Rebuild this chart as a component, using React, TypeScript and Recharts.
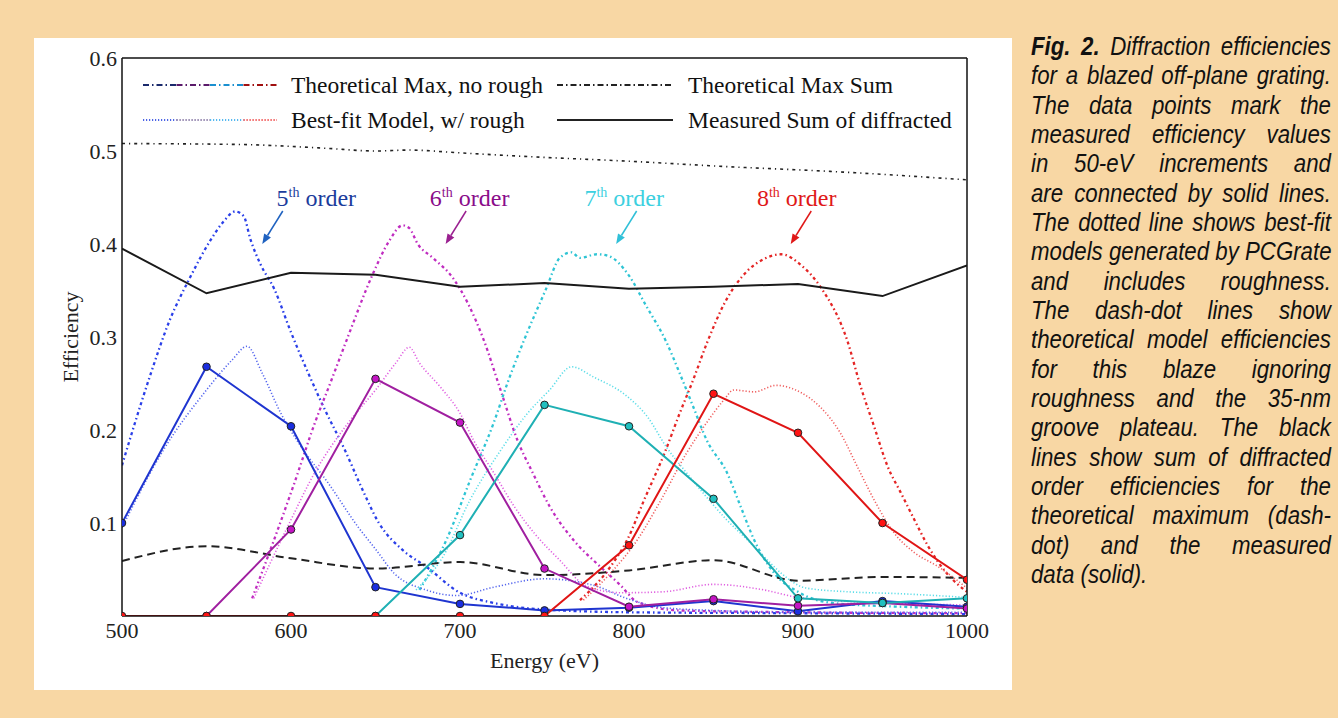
import React from 'react';
import { LineChart, Line, XAxis, YAxis, ReferenceDot } from 'recharts';

// measured points, every 50 eV
const energySteps = [500, 550, 600, 650, 700, 750, 800, 850, 900, 950, 1000];
const measured5th = [0.1, 0.268, 0.204, 0.031, 0.013, 0.006, 0.009, 0.016, 0.005, 0.016, 0.01];
const measured6th = [null, 0, 0.093, 0.255, 0.208, 0.051, 0.01, 0.018, 0.011, 0.014, 0.008];
const measured7th = [null, null, null, 0, 0.087, 0.227, 0.204, 0.126, 0.019, 0.014, 0.019];
const measured8th = [0, 0, 0, 0, 0, 0, 0.076, 0.239, 0.197, 0.1, 0.039];
const measuredSum = [0.395, 0.347, 0.369, 0.367, 0.354, 0.358, 0.352, 0.354, 0.357, 0.344, 0.377];
const dashedBlack = [0.059, 0.075, 0.062, 0.051, 0.058, 0.044, 0.049, 0.06, 0.038, 0.042, 0.041];

// theoretical max, no roughness (dash-dot)  [eV, efficiency]
const theory5th: [number, number][] = [
  [500, 0.162], [516, 0.255], [528, 0.317], [540, 0.363], [552, 0.403], [560, 0.424], [567, 0.435],
  [572, 0.43], [576, 0.405], [582, 0.378], [590, 0.352], [600, 0.305], [610, 0.262], [620, 0.222],
  [632, 0.178], [642, 0.137], [652, 0.1], [666, 0.071], [680, 0.053], [700, 0.025], [720, 0.014],
  [750, 0.007], [800, 0.004], [900, 0.003], [1000, 0.002],
];
const theory6th: [number, number][] = [
  [577, 0.019], [590, 0.082], [602, 0.143], [614, 0.207], [624, 0.254], [633, 0.297], [648, 0.366],
  [658, 0.403], [666, 0.42], [670, 0.417], [675, 0.4], [684, 0.385], [696, 0.363], [705, 0.335],
  [714, 0.297], [724, 0.243], [734, 0.189], [743, 0.154], [753, 0.118], [767, 0.082], [783, 0.053],
  [795, 0.033], [805, 0.015], [830, 0.006], [900, 0.004], [1000, 0.003],
];
const theory7th: [number, number][] = [
  [676, 0.028], [692, 0.082], [706, 0.146], [720, 0.208], [728, 0.25], [738, 0.297], [751, 0.352],
  [759, 0.385], [766, 0.391], [771, 0.385], [781, 0.389], [788, 0.387], [800, 0.366], [810, 0.334],
  [822, 0.295], [830, 0.261], [838, 0.225], [846, 0.189], [858, 0.154], [866, 0.118], [874, 0.082],
  [886, 0.046], [900, 0.026], [920, 0.014], [960, 0.01], [1000, 0.008],
];
const theory8th: [number, number][] = [
  [771, 0.017], [789, 0.053], [799, 0.082], [809, 0.125], [821, 0.175], [830, 0.218], [838, 0.254],
  [846, 0.293], [857, 0.338], [870, 0.371], [880, 0.384], [890, 0.389], [902, 0.377], [914, 0.352],
  [929, 0.297], [937, 0.247], [945, 0.204], [953, 0.161], [961, 0.132], [969, 0.103], [977, 0.075],
  [988, 0.046], [1000, 0.026],
];
const theorySum: [number, number][] = [
  [500, 0.508], [570, 0.507], [620, 0.503], [650, 0.5], [670, 0.501], [700, 0.498], [740, 0.494],
  [800, 0.489], [860, 0.483], [920, 0.478], [1000, 0.469],
];

// best-fit model with roughness (dotted)
const bestFit5th: [number, number][] = [
  [500, 0.095], [525, 0.18], [550, 0.243], [565, 0.275], [574, 0.29], [583, 0.261], [594, 0.218],
  [606, 0.182], [622, 0.143], [640, 0.095], [650, 0.072], [661, 0.046], [680, 0.028], [698, 0.022],
  [720, 0.031], [750, 0.04], [779, 0.033], [800, 0.018], [820, 0.009], [850, 0.006], [900, 0.004],
  [1000, 0.004],
];
const bestFit6th: [number, number][] = [
  [578, 0.019], [598, 0.096], [614, 0.154], [634, 0.208], [650, 0.243], [662, 0.272], [670, 0.289],
  [676, 0.272], [688, 0.247], [700, 0.218], [708, 0.189], [720, 0.154], [732, 0.118], [744, 0.089],
  [759, 0.06], [775, 0.032], [795, 0.025], [820, 0.026], [850, 0.034], [880, 0.028], [900, 0.02],
  [950, 0.014], [1000, 0.012],
];
const bestFit7th: [number, number][] = [
  [674, 0.028], [690, 0.064], [706, 0.125], [724, 0.178], [740, 0.218], [753, 0.243], [766, 0.268],
  [779, 0.257], [799, 0.236], [811, 0.214], [822, 0.182], [834, 0.154], [844, 0.132], [858, 0.103],
  [870, 0.082], [882, 0.06], [890, 0.046], [905, 0.03], [930, 0.026], [960, 0.024], [1000, 0.02],
];
const bestFit8th: [number, number][] = [
  [773, 0.017], [789, 0.046], [805, 0.082], [819, 0.125], [834, 0.175], [846, 0.208], [856, 0.232],
  [862, 0.243], [874, 0.241], [887, 0.248], [902, 0.24], [913, 0.225], [925, 0.197], [935, 0.161],
  [945, 0.125], [957, 0.089], [969, 0.068], [983, 0.053], [1000, 0.03],
];

const xTicks = [500, 600, 700, 800, 900, 1000];
const yTicks = [0.1, 0.2, 0.3, 0.4, 0.5, 0.6];

// order annotations: label, arrow tip energy, arrow tip efficiency
const orderNames = ['5', '6', '7', '8'];
const orderArrowEnergy = [583, 691.5, 792.4, 895.7];
const orderArrowEff = [0.4, 0.4, 0.4, 0.4];

const captionLines = [
  'Diffraction efficiencies',
  'for a blazed off-plane grating.',
  'The data points mark the',
  'measured efficiency values',
  'in 50-eV increments and',
  'are connected by solid lines.',
  'The dotted line shows  best-fit',
  'models generated by PCGrate',
  'and includes roughness.',
  'The dash-dot lines show',
  'theoretical model efficiencies',
  'for this blaze ignoring',
  'roughness and the 35-nm',
  'groove plateau. The black',
  'lines show sum of diffracted',
  'order efficiencies for the',
  'theoretical maximum (dash-',
  'dot) and the measured',
  'data (solid).',
];

const pts = (e: number[], v: (number | null)[]) =>
  e.map((x, i) => ({ e: x, v: v[i] })).filter(d => d.v !== null);
const pairs = (p: [number, number][]) => p.map(([e, v]) => ({ e, v }));

const SERIF = "'Liberation Serif', 'DejaVu Serif', serif";
const DASHDOT = '3 3 1.5 3';
const DOTTED = '1.2 2';

const orders = [
  { theo: theory5th, fit: bestFit5th, meas: measured5th, solid: '#1f35d0', dot: '#1a2ee0', theoC: '#2a3fe8', fitC: '#5566ee', text: '#1b3c9c', arrow: '#1f62c0' },
  { theo: theory6th, fit: bestFit6th, meas: measured6th, solid: '#a01fa0', dot: '#c414c4', theoC: '#c02cc0', fitC: '#e060e0', text: '#8a0c8a', arrow: '#9a2090' },
  { theo: theory7th, fit: bestFit7th, meas: measured7th, solid: '#1fb0b4', dot: '#20c0c0', theoC: '#2ec4d4', fitC: '#5cdde8', text: '#3cd0e0', arrow: '#30c0d8' },
  { theo: theory8th, fit: bestFit8th, meas: measured8th, solid: '#e01515', dot: '#ff1414', theoC: '#e42525', fitC: '#f06060', text: '#e01818', arrow: '#e01818' },
];

// label offsets from arrow tip (px)
const labelDx = [54, 24, 8, 6];

const orderMark = (i: number) => (p: any) => {
  const { cx, cy } = p;
  const o = orders[i];
  const tx = cx + 20.5, ty = cy - 33;
  const len = Math.hypot(cx - tx, cy - ty);
  const ux = (cx - tx) / len, uy = (cy - ty) / len;
  const hx = cx - ux * 10, hy = cy - uy * 10;
  const head = `${cx},${cy} ${hx - uy * 4},${hy + ux * 4} ${hx + uy * 4},${hy - ux * 4}`;
  return (
    <g>
      <line x1={tx} y1={ty} x2={hx} y2={hy} stroke={o.arrow} strokeWidth={1.5} />
      <polygon points={head} fill={o.arrow} />
      <text x={cx + labelDx[i]} y={cy - 38} textAnchor="middle" fill={o.text} fontFamily={SERIF} fontSize={24}>
        {orderNames[i]}
        <tspan fontSize={14} dy={-9}>th</tspan>
        <tspan dy={9}> order</tspan>
      </text>
    </g>
  );
};

const LegendSample = ({ colors, dash, w = 134 }: { colors: string[]; dash?: string; w?: number }) => {
  const seg = w / colors.length;
  return (
    <svg width={w} height={6} style={{ display: 'block' }}>
      {colors.map((c, i) => (
        <line key={i} x1={i * seg} y1={3} x2={(i + 1) * seg} y2={3} stroke={c} strokeWidth={2} strokeDasharray={dash} />
      ))}
    </svg>
  );
};

const legendText: React.CSSProperties = { fontFamily: SERIF, fontSize: 23.5, color: '#111', lineHeight: '24px', whiteSpace: 'nowrap' };

export default function App() {
  return (
    <div style={{ position: 'absolute', left: 0, top: 0, width: 1338, height: 718, background: '#f8d7a4', overflow: 'hidden' }}>
      <div style={{ position: 'absolute', left: 34, top: 38, width: 978, height: 652, background: '#fff' }}>
        <LineChart width={978} height={652} margin={{ top: 20, right: 45, bottom: 0, left: 0 }}>
          <XAxis
            type="number" dataKey="e" domain={[500, 1000]} ticks={xTicks} allowDataOverflow
            height={74} tickLine={false} tickSize={0} tickMargin={6}
            axisLine={{ stroke: '#111', strokeWidth: 1.5 }}
            tick={{ fill: '#222', fontFamily: SERIF, fontSize: 22 }}
            label={{ value: 'Energy (eV)', position: 'insideBottom', offset: 22, fill: '#222', fontFamily: SERIF, fontSize: 22 }}
          />
          <XAxis xAxisId="bm" type="number" domain={[500, 1000]} ticks={xTicks} allowDataOverflow orientation="bottom" mirror
            tick={false} axisLine={false} tickSize={5} tickLine={{ stroke: '#111' }} height={1} />
          <XAxis xAxisId="top" type="number" domain={[500, 1000]} ticks={xTicks} allowDataOverflow orientation="top" mirror
            tick={false} axisLine={{ stroke: '#111', strokeWidth: 1.5 }} tickSize={5} tickLine={{ stroke: '#111' }} height={1} />
          <YAxis
            type="number" domain={[0, 0.6]} ticks={yTicks} allowDataOverflow width={88}
            tickLine={false} tickSize={0} tickMargin={5}
            axisLine={{ stroke: '#111', strokeWidth: 1.5 }}
            tick={{ fill: '#222', fontFamily: SERIF, fontSize: 22 }}
            tickFormatter={(v: number) => v.toFixed(1)}
            label={{ value: 'Efficiency', angle: -90, position: 'insideLeft', offset: 36, fill: '#222', fontFamily: SERIF, fontSize: 22, style: { textAnchor: 'middle' } }}
          />
          <YAxis yAxisId="lm" type="number" domain={[0, 0.6]} ticks={yTicks} allowDataOverflow orientation="left" mirror
            tick={false} axisLine={false} tickSize={5} tickLine={{ stroke: '#111' }} width={1} />
          <YAxis yAxisId="right" type="number" domain={[0, 0.6]} ticks={yTicks} allowDataOverflow orientation="right" mirror
            tick={false} axisLine={{ stroke: '#111', strokeWidth: 1.5 }} tickSize={5} tickLine={{ stroke: '#111' }} width={1} />

          {orders.map((o, i) => (
            <Line key={`theo${i}`} data={pairs(o.theo)} dataKey="v" type="monotone" stroke={o.theoC} strokeWidth={2.3}
              strokeDasharray={DASHDOT} dot={false} isAnimationActive={false} />
          ))}
          {orders.map((o, i) => (
            <Line key={`fit${i}`} data={pairs(o.fit)} dataKey="v" type="monotone" stroke={o.fitC} strokeWidth={1.6}
              strokeDasharray={DOTTED} dot={false} isAnimationActive={false} />
          ))}
          <Line data={pts(energySteps, dashedBlack)} dataKey="v" type="monotone" stroke="#222" strokeWidth={2}
            strokeDasharray="8 5" dot={false} isAnimationActive={false} />
          <Line data={pairs(theorySum)} dataKey="v" type="monotone" stroke="#222" strokeWidth={1.6}
            strokeDasharray="3 4 1.2 4" dot={false} isAnimationActive={false} />
          <Line data={pts(energySteps, measuredSum)} dataKey="v" type="linear" stroke="#1a1a1a" strokeWidth={2}
            dot={false} isAnimationActive={false} />
          {orders.map((o, i) => (
            <Line key={`meas${i}`} data={pts(energySteps, o.meas)} dataKey="v" type="linear" stroke={o.solid} strokeWidth={2}
              dot={{ r: 3.8, fill: o.dot, stroke: '#222', strokeWidth: 1 }} isAnimationActive={false} />
          ))}

          {orderNames.map((n, i) => (
            <ReferenceDot key={n} x={orderArrowEnergy[i]} y={orderArrowEff[i]} shape={orderMark(i)} />
          ))}
        </LineChart>
      </div>

      {/* legend */}
      <div style={{ position: 'absolute', left: 143, top: 82 }}>
        <LegendSample colors={['#1a2a6c', '#5a1a6a', '#1a90d0', '#a01010']} dash="6 3 1.5 3" />
      </div>
      <div style={{ ...legendText, position: 'absolute', left: 291, top: 73 }}>Theoretical Max, no rough</div>
      <div style={{ position: 'absolute', left: 143, top: 117 }}>
        <LegendSample colors={['#4b63e6', '#8070a0', '#55b8f0', '#f04848']} dash="1.2 1.8" />
      </div>
      <div style={{ ...legendText, position: 'absolute', left: 291, top: 108 }}>Best-fit Model, w/ rough</div>
      <div style={{ position: 'absolute', left: 557, top: 82 }}>
        <LegendSample colors={['#222']} dash="6 3 1.5 3" w={116} />
      </div>
      <div style={{ ...legendText, position: 'absolute', left: 688, top: 73 }}>Theoretical Max Sum</div>
      <div style={{ position: 'absolute', left: 557, top: 117 }}>
        <LegendSample colors={['#222']} w={116} />
      </div>
      <div style={{ ...legendText, position: 'absolute', left: 688, top: 108 }}>Measured Sum of diffracted</div>

      {/* caption */}
      <div style={{ position: 'absolute', left: 1031, top: 32, width: 300 }}>
        {captionLines.map((t, i) => (
          <div key={i} style={{
            width: 337, height: 29.33, lineHeight: '29.33px', transform: 'scaleX(0.89)', transformOrigin: 'left center',
            fontFamily: "'Liberation Sans', Arial, sans-serif", fontStyle: 'italic', fontSize: 25, color: '#111',
            textAlign: i === captionLines.length - 1 ? 'left' : 'justify',
            textAlignLast: i === captionLines.length - 1 ? 'left' : 'justify', whiteSpace: 'nowrap',
          }}>
            {i === 0 && <b>Fig. 2. </b>}{t}
          </div>
        ))}
      </div>
    </div>
  );
}
